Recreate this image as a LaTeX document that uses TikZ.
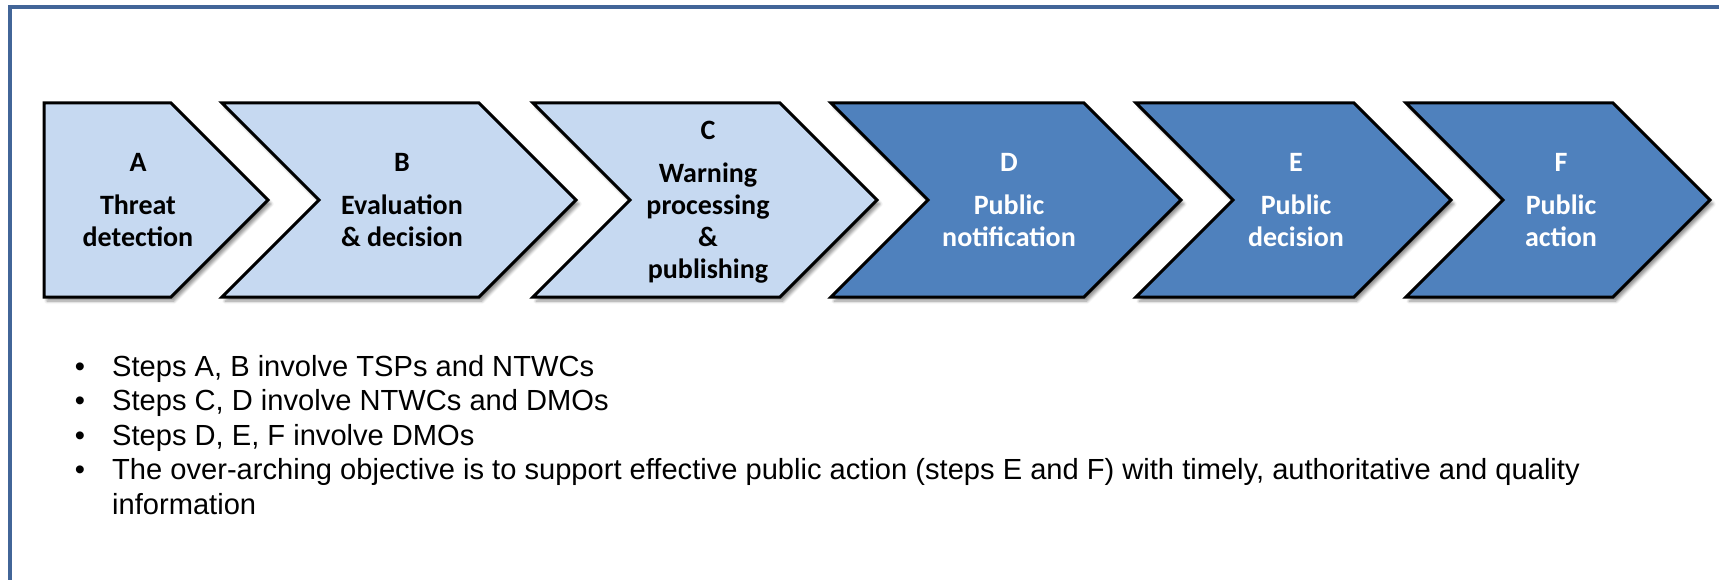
\documentclass[tikz,border=0pt]{standalone}
\usepackage{fontspec}
\setmainfont{Liberation Sans}
\newfontfamily\calibri{Carlito}
\usetikzlibrary{shadows.blur}

\definecolor{framecol}{RGB}{66,101,152}
\definecolor{lightstep}{RGB}{198,217,241}
\definecolor{darkstep}{RGB}{79,129,189}

% step arrow with a notch on its left side: #1 style, #2 left x, #3 tip x
\newcommand{\notchedstep}[3]{%
  \draw[#1] (#2,103) -- ({#3-97},103) -- (#3,200) -- ({#3-97},297)
    -- (#2,297) -- ({#2+97},200) -- cycle;}

\begin{document}
\begin{tikzpicture}[x=1pt,y=-1pt,
  chev/.style={draw=black, line width=3pt, line join=miter,
    blur shadow={shadow xshift=3pt, shadow yshift=-4pt,
      shadow blur steps=6, shadow blur radius=3pt, shadow opacity=45}},
  lightchev/.style={chev, fill=lightstep},
  darkchev/.style={chev, fill=darkstep},
  steplabel/.style={align=center, inner sep=0pt, text depth=0pt,
    font=\calibri\bfseries\fontsize{28}{32}\selectfont},
  bullettext/.style={anchor=base west, inner sep=0pt,
    font=\fontsize{29.1}{35}\selectfont},
  bulletdot/.style={anchor=base, inner sep=0pt,
    font=\fontsize{29.1}{35}\selectfont},
]
\useasboundingbox (0,0) rectangle (1719,580);

% outer frame
\draw[framecol, line width=4pt] (9.5,590) -- (9.5,7) -- (1730,7);

% process steps
\draw[lightchev] (44,103) -- (171,103) -- (268,200) -- (171,297) -- (44,297) -- cycle;
\notchedstep{lightchev}{222}{576}
\notchedstep{lightchev}{533}{877}
\notchedstep{darkchev}{831}{1181}
\notchedstep{darkchev}{1136}{1451}
\notchedstep{darkchev}{1406}{1710}

\node[steplabel] (stepA) at (138,200) {A\\[11pt]Threat\\detection};
\node[steplabel] (stepB) at (402,200) {B\\[11pt]Evaluation\\\& decision};
\node[steplabel] (stepC) at (708,200) {C\\[11pt]Warning\\processing\\\&\\publishing};
\node[steplabel, text=white] (stepD) at (1009,200) {D\\[11pt]Public\\notification};
\node[steplabel, text=white] (stepE) at (1296,200) {E\\[11pt]Public\\decision};
\node[steplabel, text=white] (stepF) at (1561,200) {F\\[11pt]Public\\action};

% notes
\node[bulletdot] (dot1) at (80,376) {\textbullet};
\node[bullettext] (note1) at (112,376) {Steps A, B involve TSPs and NTWCs};
\node[bulletdot] (dot2) at (80,410.5) {\textbullet};
\node[bullettext] (note2) at (112,410.5) {Steps C, D involve NTWCs and DMOs};
\node[bulletdot] (dot3) at (80,445) {\textbullet};
\node[bullettext] (note3) at (112,445) {Steps D, E, F involve DMOs};
\node[bulletdot] (dot4) at (80,479.5) {\textbullet};
\node[bullettext] (note4) at (112,479.5) {The over-arching objective is to support effective public action (steps E and F) with timely, authoritative and quality};
\node[bullettext] (note5) at (112,514) {information};
\end{tikzpicture}
\end{document}
